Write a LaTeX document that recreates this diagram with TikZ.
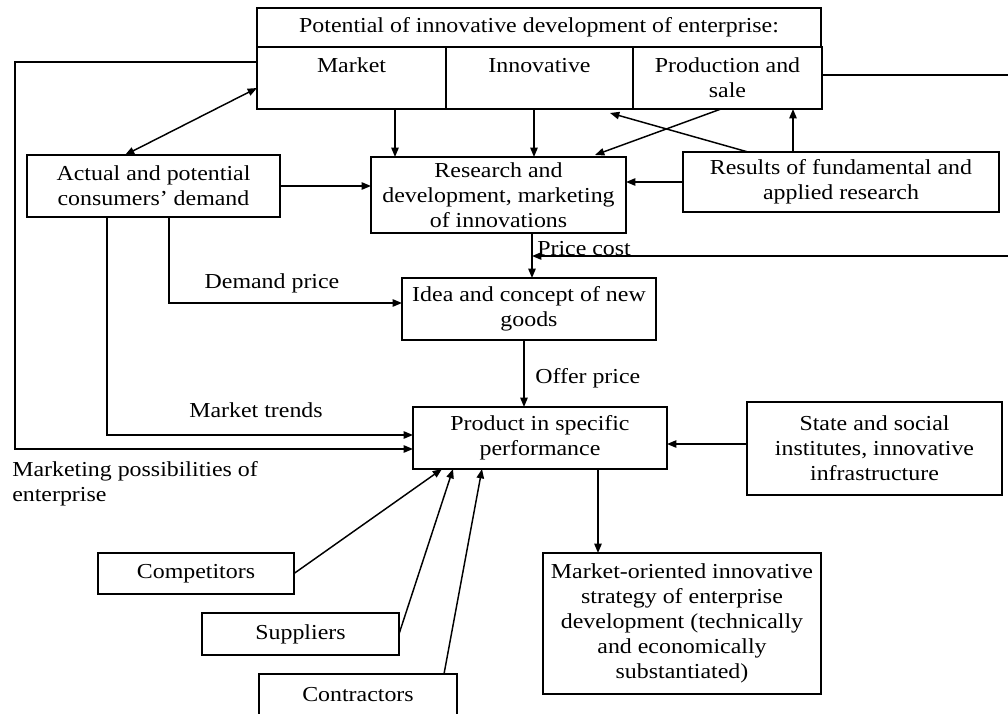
\documentclass[tikz,border=0pt]{standalone}
\usepackage{fontspec}
\setmainfont{Liberation Serif}[FakeStretch=1.12]
\usetikzlibrary{arrows.meta,calc}

\begin{document}
\begin{tikzpicture}
[x=0.75pt,y=-0.75pt,
  boxDecorate/.style={draw,line width=1pt,inner sep=0pt,outer sep=0pt,align=center,
    font=\fontsize{16}{18.75}\selectfont},
  sizeDecorate/.style 2 args={minimum width=#1*0.75pt,minimum height=#2*0.75pt},
  textDecorate/.style={inner sep=0pt,font=\fontsize{16}{18.75}\selectfont},
  lineDecorate/.style={line width=1.1pt,-{Triangle[length=7pt,width=5.5pt]}},
  bothDecorate/.style={line width=1.1pt,{Triangle[length=7pt,width=5.5pt]}-{Triangle[length=7pt,width=5.5pt]}}]
\useasboundingbox (0,0) rectangle (1008,714);
%% potential of the enterprise
\node (potential) at (539,27.5) [boxDecorate,sizeDecorate={564}{39}]
  {Potential of innovative development of enterprise:};
\foreach \nodename/\x/\w/\first/\second in {
  market/351.5/189/Market/{}, innov/539.5/187/Innovative/{}, prod/727.5/189/Production and/sale}
{
  \node (\nodename) at (\x,78) [boxDecorate,sizeDecorate={\w}{62}] {\first\\\mbox{}\second};
}
%% blocks
\node (demand) at (153.5,186) [boxDecorate,sizeDecorate={253}{62}]
  {Actual and potential\\consumers' demand};
\node (research) at (498.5,195) [boxDecorate,sizeDecorate={255}{76}]
  {Research and\\development, marketing\\of innovations};
\node (results) at (841,182) [boxDecorate,sizeDecorate={316}{60}]
  {Results of fundamental and\\applied research};
\node (idea) at (529,309) [boxDecorate,sizeDecorate={254}{62}]
  {Idea and concept of new\\goods};
\node (product) at (540,438) [boxDecorate,sizeDecorate={254}{62}]
  {Product in specific\\performance};
\node (state) at (874.5,448.5) [boxDecorate,sizeDecorate={255}{93}]
  {State and social\\institutes, innovative\\infrastructure};
\node (strategy) at (682,623.5) [boxDecorate,sizeDecorate={278}{141}]
  {Market-oriented innovative\\strategy of enterprise\\development (technically\\and economically\\substantiated)};
\foreach \nodename/\x/\y/\w/\h/\txt in {
  competitors/196/573.5/196/41/Competitors,
  suppliers/300.5/634/197/42/Suppliers,
  contractors/358/695/198/42/Contractors}
{
  \node (\nodename) at (\x,\y) [boxDecorate,sizeDecorate={\w}{\h}] {\txt};
}
%% labels
\node (demandprice) at (272,288) [textDecorate,anchor=base] {Demand price};
\node (trends) at (256,417) [textDecorate,anchor=base] {Market trends};
\node (pricecost) at (537,255) [textDecorate,anchor=base west] {Price cost};
\node (offerprice) at (535,383) [textDecorate,anchor=base west] {Offer price};
\node (possibilities) at (12,461) [textDecorate,anchor=north west,align=left]
  {Marketing possibilities of\\enterprise};
%% points on the borders
\coordinate (m1) at ($(market.south)+(43.5,0)$);
\coordinate (i1) at ($(innov.south)+(-5.5,0)$);
\coordinate (i2) at ($(innov.south east)+(-23,4)$);
\coordinate (p1) at ($(prod.south)+(-6.5,0)$);
\coordinate (p2) at ($(research.north east)+(-31,-2)$);
\coordinate (o1) at ($(prod.east)+(0,-3)$);
\coordinate (r1) at ($(research.south)+(33.5,0)$);
\coordinate (r2) at ($(results.north west)+(65,0)$);
\coordinate (r3) at ($(results.north west)+(110,0)$);
\coordinate (pcin) at (1010,256);
\coordinate (d1) at ($(idea.south)+(-5,0)$);
\coordinate (s1) at ($(state.west)+(0,-4.5)$);
\coordinate (q1) at ($(product.south)+(58,0)$);
\coordinate (c1) at ($(product.south west)+(29,0)$);
\coordinate (c2) at ($(product.south west)+(40,0)$);
\coordinate (c3) at ($(product.south west)+(69,0)$);
\coordinate (k1) at ($(contractors.north east)+(-13,0)$);
%% straight arrows
\path
\foreach \startnode/\endnode in {
  demand.east/demand.east -| research.west, results.west/results.west -| research.east,
  m1/m1 |- research.north, i1/i1 |- research.north, p1/p2, r2/i2, r3/r3 |- prod.south,
  r1/r1 |- idea.north, pcin/pcin -| r1, d1/d1 |- product.north, s1/s1 -| product.east,
  q1/q1 |- strategy.north, competitors.east/c1, suppliers.east/c2, k1/c3}
{
  (\startnode) edge[lineDecorate] (\endnode)
};
\draw[bothDecorate] ($(demand.north)+(-28.5,0)$) -- ($(market.south west)+(0,-21)$);
\draw[line width=1.1pt] (o1) -- (o1 -| pcin);
%% bent arrows
\draw[lineDecorate] ($(market.north west)+(0,15)$) -- ++(-242,0) |- ($(product.south west)+(0,-20)$);
\draw[lineDecorate] ($(demand.south)+(15.5,0)$) |- ($(idea.west)+(0,-6)$);
\draw[lineDecorate] ($(demand.south)+(-46.5,0)$) |- ($(product.west)+(0,-3)$);
\end{tikzpicture}
\end{document}
